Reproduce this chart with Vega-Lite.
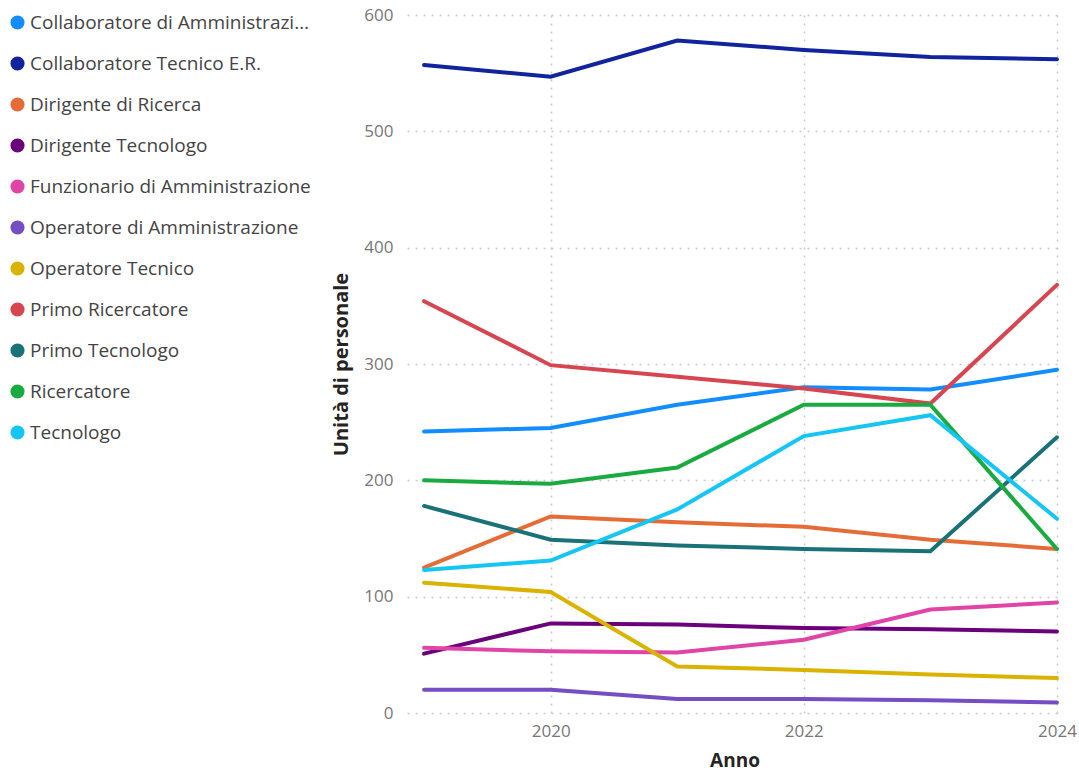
{
  "$schema": "https://vega.github.io/schema/vega-lite/v6.json",
  "width": 655,
  "height": 698,
  "autosize": {"type": "none"},
  "padding": {"left": 407, "top": 15, "right": 17, "bottom": 58},
  "background": "white",
  "config": {
    "font": "Open Sans",
    "view": {"stroke": null}
  },
  "data": {
    "values": [
      {"Ruolo": "Collaboratore di Amministrazione", "Anno": 2019, "Unita": 242},
      {"Ruolo": "Collaboratore di Amministrazione", "Anno": 2020, "Unita": 245},
      {"Ruolo": "Collaboratore di Amministrazione", "Anno": 2021, "Unita": 265},
      {"Ruolo": "Collaboratore di Amministrazione", "Anno": 2022, "Unita": 280},
      {"Ruolo": "Collaboratore di Amministrazione", "Anno": 2023, "Unita": 278},
      {"Ruolo": "Collaboratore di Amministrazione", "Anno": 2024, "Unita": 295},
      {"Ruolo": "Collaboratore Tecnico E.R.", "Anno": 2019, "Unita": 557},
      {"Ruolo": "Collaboratore Tecnico E.R.", "Anno": 2020, "Unita": 547},
      {"Ruolo": "Collaboratore Tecnico E.R.", "Anno": 2021, "Unita": 578},
      {"Ruolo": "Collaboratore Tecnico E.R.", "Anno": 2022, "Unita": 570},
      {"Ruolo": "Collaboratore Tecnico E.R.", "Anno": 2023, "Unita": 564},
      {"Ruolo": "Collaboratore Tecnico E.R.", "Anno": 2024, "Unita": 562},
      {"Ruolo": "Dirigente di Ricerca", "Anno": 2019, "Unita": 125},
      {"Ruolo": "Dirigente di Ricerca", "Anno": 2020, "Unita": 169},
      {"Ruolo": "Dirigente di Ricerca", "Anno": 2021, "Unita": 164},
      {"Ruolo": "Dirigente di Ricerca", "Anno": 2022, "Unita": 160},
      {"Ruolo": "Dirigente di Ricerca", "Anno": 2023, "Unita": 149},
      {"Ruolo": "Dirigente di Ricerca", "Anno": 2024, "Unita": 141},
      {"Ruolo": "Dirigente Tecnologo", "Anno": 2019, "Unita": 51},
      {"Ruolo": "Dirigente Tecnologo", "Anno": 2020, "Unita": 77},
      {"Ruolo": "Dirigente Tecnologo", "Anno": 2021, "Unita": 76},
      {"Ruolo": "Dirigente Tecnologo", "Anno": 2022, "Unita": 73},
      {"Ruolo": "Dirigente Tecnologo", "Anno": 2023, "Unita": 72},
      {"Ruolo": "Dirigente Tecnologo", "Anno": 2024, "Unita": 70},
      {"Ruolo": "Funzionario di Amministrazione", "Anno": 2019, "Unita": 56},
      {"Ruolo": "Funzionario di Amministrazione", "Anno": 2020, "Unita": 53},
      {"Ruolo": "Funzionario di Amministrazione", "Anno": 2021, "Unita": 52},
      {"Ruolo": "Funzionario di Amministrazione", "Anno": 2022, "Unita": 63},
      {"Ruolo": "Funzionario di Amministrazione", "Anno": 2023, "Unita": 89},
      {"Ruolo": "Funzionario di Amministrazione", "Anno": 2024, "Unita": 95},
      {"Ruolo": "Operatore di Amministrazione", "Anno": 2019, "Unita": 20},
      {"Ruolo": "Operatore di Amministrazione", "Anno": 2020, "Unita": 20},
      {"Ruolo": "Operatore di Amministrazione", "Anno": 2021, "Unita": 12},
      {"Ruolo": "Operatore di Amministrazione", "Anno": 2022, "Unita": 12},
      {"Ruolo": "Operatore di Amministrazione", "Anno": 2023, "Unita": 11},
      {"Ruolo": "Operatore di Amministrazione", "Anno": 2024, "Unita": 9},
      {"Ruolo": "Operatore Tecnico", "Anno": 2019, "Unita": 112},
      {"Ruolo": "Operatore Tecnico", "Anno": 2020, "Unita": 104},
      {"Ruolo": "Operatore Tecnico", "Anno": 2021, "Unita": 40},
      {"Ruolo": "Operatore Tecnico", "Anno": 2022, "Unita": 37},
      {"Ruolo": "Operatore Tecnico", "Anno": 2023, "Unita": 33},
      {"Ruolo": "Operatore Tecnico", "Anno": 2024, "Unita": 30},
      {"Ruolo": "Primo Ricercatore", "Anno": 2019, "Unita": 354},
      {"Ruolo": "Primo Ricercatore", "Anno": 2020, "Unita": 299},
      {"Ruolo": "Primo Ricercatore", "Anno": 2021, "Unita": 289},
      {"Ruolo": "Primo Ricercatore", "Anno": 2022, "Unita": 279},
      {"Ruolo": "Primo Ricercatore", "Anno": 2023, "Unita": 266},
      {"Ruolo": "Primo Ricercatore", "Anno": 2024, "Unita": 368},
      {"Ruolo": "Primo Tecnologo", "Anno": 2019, "Unita": 178},
      {"Ruolo": "Primo Tecnologo", "Anno": 2020, "Unita": 149},
      {"Ruolo": "Primo Tecnologo", "Anno": 2021, "Unita": 144},
      {"Ruolo": "Primo Tecnologo", "Anno": 2022, "Unita": 141},
      {"Ruolo": "Primo Tecnologo", "Anno": 2023, "Unita": 139},
      {"Ruolo": "Primo Tecnologo", "Anno": 2024, "Unita": 237},
      {"Ruolo": "Ricercatore", "Anno": 2019, "Unita": 200},
      {"Ruolo": "Ricercatore", "Anno": 2020, "Unita": 197},
      {"Ruolo": "Ricercatore", "Anno": 2021, "Unita": 211},
      {"Ruolo": "Ricercatore", "Anno": 2022, "Unita": 265},
      {"Ruolo": "Ricercatore", "Anno": 2023, "Unita": 265},
      {"Ruolo": "Ricercatore", "Anno": 2024, "Unita": 141},
      {"Ruolo": "Tecnologo", "Anno": 2019, "Unita": 123},
      {"Ruolo": "Tecnologo", "Anno": 2020, "Unita": 131},
      {"Ruolo": "Tecnologo", "Anno": 2021, "Unita": 175},
      {"Ruolo": "Tecnologo", "Anno": 2022, "Unita": 238},
      {"Ruolo": "Tecnologo", "Anno": 2023, "Unita": 256},
      {"Ruolo": "Tecnologo", "Anno": 2024, "Unita": 167}
    ]
  },
  "mark": {"type": "line", "strokeWidth": 4, "strokeJoin": "miter", "strokeCap": "round"},
  "encoding": {
    "x": {
      "field": "Anno",
      "type": "quantitative",
      "scale": {"domain": [2018.865, 2024.04], "nice": false, "zero": false},
      "axis": {
        "title": "Anno",
        "values": [2020, 2022, 2024],
        "format": "d",
        "domain": false,
        "ticks": false,
        "grid": true,
        "gridDash": [2, 6],
        "gridColor": "#c8c8c8",
        "gridWidth": 1.5,
        "labelFont": "Open Sans",
        "labelFontSize": 17,
        "labelColor": "#777777",
        "labelPadding": 10,
        "titleFont": "Open Sans",
        "titleFontSize": 19,
        "titleFontWeight": "bold",
        "titleColor": "#252423",
        "titlePadding": 12,
        "labelFlush": false
      }
    },
    "y": {
      "field": "Unita",
      "type": "quantitative",
      "scale": {"domain": [0, 600], "nice": false},
      "axis": {
        "title": "Unità di personale",
        "values": [0, 100, 200, 300, 400, 500, 600],
        "domain": false,
        "ticks": false,
        "grid": true,
        "gridDash": [2, 6],
        "gridColor": "#c8c8c8",
        "gridWidth": 1.5,
        "labelFont": "Open Sans",
        "labelFontSize": 17,
        "labelColor": "#777777",
        "labelPadding": 14,
        "titleFont": "Open Sans",
        "titleFontSize": 20,
        "titleFontWeight": "bold",
        "titleColor": "#252423",
        "titlePadding": 12
      }
    },
    "color": {
      "field": "Ruolo",
      "type": "nominal",
      "sort": [
        "Collaboratore di Amministrazione",
        "Collaboratore Tecnico E.R.",
        "Dirigente di Ricerca",
        "Dirigente Tecnologo",
        "Funzionario di Amministrazione",
        "Operatore di Amministrazione",
        "Operatore Tecnico",
        "Primo Ricercatore",
        "Primo Tecnologo",
        "Ricercatore",
        "Tecnologo"
      ],
      "scale": {
        "domain": [
          "Collaboratore di Amministrazione",
          "Collaboratore Tecnico E.R.",
          "Dirigente di Ricerca",
          "Dirigente Tecnologo",
          "Funzionario di Amministrazione",
          "Operatore di Amministrazione",
          "Operatore Tecnico",
          "Primo Ricercatore",
          "Primo Tecnologo",
          "Ricercatore",
          "Tecnologo"
        ],
        "range": ["#118DFF", "#12239E", "#E66C37", "#6B007B", "#E044A7", "#744EC2", "#D9B300", "#D64550", "#197278", "#1AAB40", "#15C6F4"]
      },
      "legend": {
        "title": null,
        "orient": "none",
        "legendX": -399,
        "legendY": -2,
        "symbolType": "circle",
        "symbolSize": 200,
        "symbolStrokeWidth": 0,
        "symbolOpacity": 1,
        "labelFont": "Open Sans",
        "labelFontSize": 19,
        "labelColor": "#444444",
        "labelOffset": 3,
        "labelLimit": 284,
        "rowPadding": 21,
        "padding": 0,
        "encode": {
          "symbols": {
            "update": {
              "fill": {"scale": "color", "field": "value"},
              "stroke": {"value": "transparent"},
              "opacity": {"value": 1}
            }
          }
        }
      }
    }
  }
}
